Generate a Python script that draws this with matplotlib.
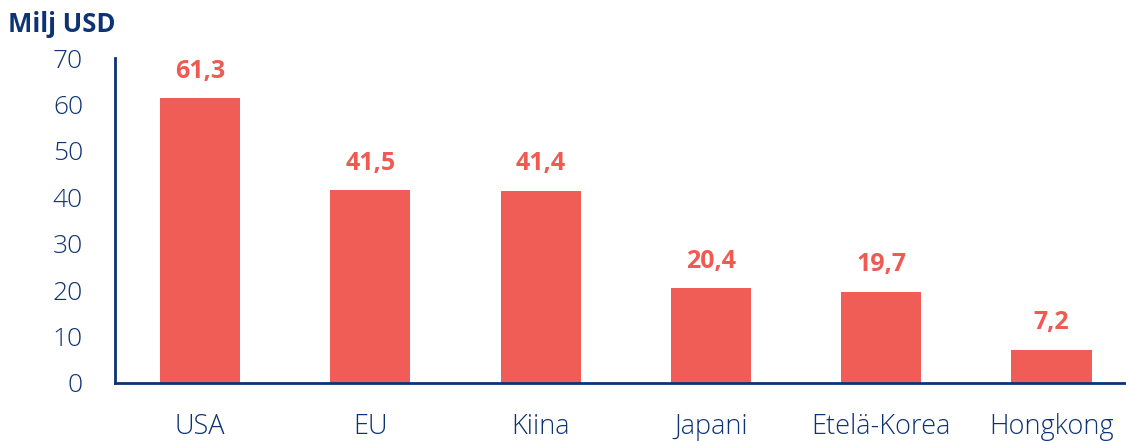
import matplotlib
matplotlib.use("Agg")
import matplotlib.pyplot as plt

categories = ["USA", "EU", "Kiina", "Japani", "Etelä-Korea", "Hongkong"]
values = [61.3, 41.5, 41.4, 20.4, 19.7, 7.2]
value_labels = ["61,3", "41,5", "41,4", "20,4", "19,7", "7,2"]
yticks = [0, 10, 20, 30, 40, 50, 60, 70]
unit_label = "Milj USD"

NAVY = "#0D3372"
BAR = "#F05C56"
RED = "#EF5A52"
FONT = ["Open Sans", "DejaVu Sans"]

fig = plt.figure(figsize=(11.26, 4.41), dpi=100)
ax = fig.add_axes([115/1126, 58/441, 1 - 115/1126, (383-58)/441])

x = list(range(len(categories)))
ax.bar(x, values, width=0.47, color=BAR)
ax.set_xlim(-0.5, (1126-200)/170.3)
ax.set_ylim(0, 70)
ax.set_yticks(yticks)
ax.set_yticklabels([str(t) for t in yticks], fontsize=19, color=NAVY,
                   family=FONT, fontweight="light")
ax.set_xticks(x)
ax.set_xticklabels(categories, fontsize=19.5, color=NAVY, family=FONT, fontweight="light")
ax.tick_params(axis="y", length=0, pad=23)
ax.tick_params(axis="x", length=0, pad=21.5)
for s in ["top", "right"]:
    ax.spines[s].set_visible(False)
for s in ["left", "bottom"]:
    ax.spines[s].set_color(NAVY)
    ax.spines[s].set_linewidth(2)

for xi, v, lab in zip(x, values, value_labels):
    ax.annotate(lab, (xi, v), xytext=(0, 10.5), textcoords="offset points",
                ha="center", va="bottom", fontsize=18, fontweight="bold",
                color=RED, family=FONT)

fig.text(8/1126, 1 - 24/441, unit_label, ha="left", va="center", fontsize=18.5,
         fontweight="bold", color=NAVY, family=FONT)

fig.savefig("out.png", dpi=100)
